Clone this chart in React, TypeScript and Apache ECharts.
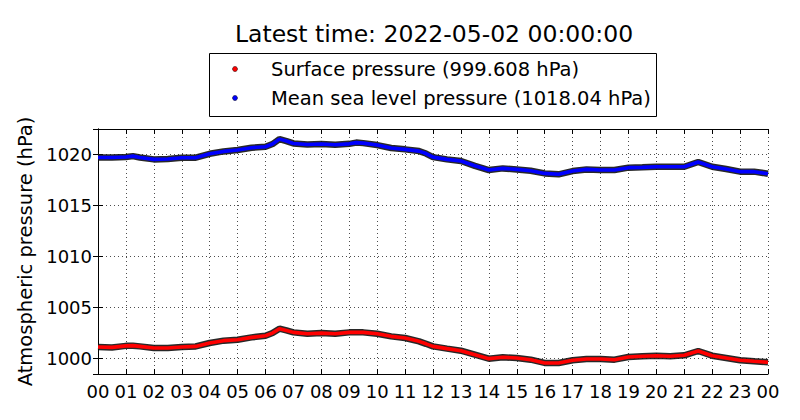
import React, { useEffect, useRef } from "react";
import * as echarts from "echarts";

const titleText = "Latest time: 2022-05-02 00:00:00";
const yAxisName = "Atmospheric pressure (hPa)";
const seriesNames = ["Surface pressure (999.608 hPa)", "Mean sea level pressure (1018.04 hPa)"];
const seriesColors = ["#ff0000", "#0000ff"];
const hourLabels = ["00","01","02","03","04","05","06","07","08","09","10","11","12","13","14","15","16","17","18","19","20","21","22","23","00"];

// time in hours since 2022-05-01 00:00
const times = [0,0.5,1,1.25,1.5,2,2.5,3,3.5,4,4.5,5,5.5,6,6.25,6.5,6.75,7,7.5,8,8.5,9,9.25,9.5,10,10.5,11,11.5,11.75,12,12.5,13,13.5,14,14.5,15,15.5,16,16.5,17,17.5,18,18.5,19,19.5,20,20.5,21,21.5,22,22.5,23,23.5,24];

const surfacePressure = [1001.14,1001.1,1001.25,1001.27,1001.2,1001.04,1001.04,1001.14,1001.2,1001.53,1001.76,1001.85,1002.08,1002.24,1002.5,1002.93,1002.76,1002.57,1002.44,1002.5,1002.44,1002.57,1002.57,1002.57,1002.44,1002.18,1002.02,1001.69,1001.45,1001.2,1000.98,1000.78,1000.39,1000.0,1000.13,1000.07,999.9,999.58,999.58,999.84,999.97,999.97,999.9,1000.16,1000.23,1000.29,1000.23,1000.33,1000.75,1000.29,1000.07,999.84,999.74,999.65];

const seaLevelPressure = [1019.67,1019.67,1019.72,1019.8,1019.67,1019.48,1019.52,1019.64,1019.64,1020.03,1020.26,1020.39,1020.62,1020.72,1020.98,1021.46,1021.27,1021.04,1020.94,1020.98,1020.91,1021.0,1021.12,1021.07,1020.88,1020.59,1020.46,1020.29,1020.05,1019.7,1019.48,1019.32,1018.85,1018.44,1018.6,1018.5,1018.37,1018.11,1018.02,1018.34,1018.5,1018.44,1018.44,1018.67,1018.7,1018.76,1018.76,1018.76,1019.22,1018.76,1018.54,1018.28,1018.28,1018.08];

const FONT = "DejaVu Sans";

export default function App() {
  const ref = useRef<HTMLDivElement>(null);
  useEffect(() => {
    if (!ref.current) return;
    const chart = echarts.init(ref.current, null, { renderer: "svg" });
    const pairs = (vals: number[]) => times.map((t, i) => [t, vals[i]]);
    const dataSets = [surfacePressure, seaLevelPressure];
    const series: any[] = [];
    dataSets.forEach((vals, i) => {
      series.push({
        type: "line",
        name: seriesNames[i] + " outline",
        data: pairs(vals),
        showSymbol: false,
        symbol: "none",
        silent: true,
        lineStyle: { color: "#111111", width: 6.5, opacity: 0.9 },
        z: 3,
      });
      series.push({
        type: "line",
        name: seriesNames[i],
        data: pairs(vals),
        showSymbol: false,
        symbol: "none",
        silent: true,
        lineStyle: { color: seriesColors[i], width: 3.6 },
        z: 4,
      });
    });
    const gridLine = { show: true, lineStyle: { color: "#000", width: 0.7, type: [1, 3] as any } };
    const axisLineStyle = { show: true, lineStyle: { color: "#000", width: 1 } };
    const tickStyle = { show: true, inside: true, length: 5, lineStyle: { color: "#000", width: 1 } };
    chart.setOption({
      animation: false,
      backgroundColor: "#fff",
      grid: { left: 98, right: 32, top: 129, bottom: 46, containLabel: false, show: false },
      xAxis: [
        {
          type: "value", min: 0, max: 24, interval: 1, position: "bottom",
          axisLine: axisLineStyle, axisTick: tickStyle, splitLine: gridLine,
          axisLabel: { formatter: (v: number) => hourLabels[Math.round(v)] ?? "", color: "#000", fontFamily: FONT, fontSize: 18, margin: 8 },
        },
        {
          type: "value", min: 0, max: 24, interval: 1, position: "top",
          axisLine: axisLineStyle, axisTick: tickStyle, splitLine: { show: false }, axisLabel: { show: false },
        },
      ],
      yAxis: [
        {
          type: "value", min: 998.5, max: 1022.45, minInterval: 5, maxInterval: 5, position: "left",
          axisLine: axisLineStyle, axisTick: tickStyle, splitLine: gridLine,
          axisLabel: {
            formatter: (v: number) => (Math.abs(v % 5) < 1e-6 ? String(v) : ""),
            color: "#000", fontFamily: FONT, fontSize: 18, margin: 6,
            showMinLabel: false, showMaxLabel: false,
          },
          name: yAxisName, nameLocation: "middle", nameGap: 57, nameRotate: 90,
          nameTextStyle: { color: "#000", fontFamily: FONT, fontSize: 19.5 },
        },
        {
          type: "value", min: 998.5, max: 1022.45, minInterval: 5, maxInterval: 5, position: "right",
          axisLine: axisLineStyle, axisTick: tickStyle, splitLine: { show: false }, axisLabel: { show: false },
        },
      ],
      series,
      graphic: [
        {
          type: "text", x: 434, y: 34,
          style: { text: titleText, fill: "#000", font: `23.5px '${FONT}'`, textAlign: "center", textVerticalAlign: "middle" } as any,
        },
        {
          type: "rect", shape: { x: 209.5, y: 53.5, width: 447, height: 63 },
          style: { fill: "#fff", stroke: "#000", lineWidth: 1 }, z: 100,
        },
        {
          type: "circle", shape: { cx: 235, cy: 69, r: 2.5 },
          style: { fill: seriesColors[0], stroke: "#000", lineWidth: 0.5 }, z: 101,
        },
        {
          type: "circle", shape: { cx: 235, cy: 98, r: 2.5 },
          style: { fill: seriesColors[1], stroke: "#000", lineWidth: 0.5 }, z: 101,
        },
        {
          type: "text", x: 271, y: 69, z: 101,
          style: { text: seriesNames[0], fill: "#000", font: `19.5px '${FONT}'`, textAlign: "left", textVerticalAlign: "middle" } as any,
        },
        {
          type: "text", x: 271, y: 98, z: 101,
          style: { text: seriesNames[1], fill: "#000", font: `19.5px '${FONT}'`, textAlign: "left", textVerticalAlign: "middle" } as any,
        },
      ],
    });
    return () => chart.dispose();
  }, []);
  return <div ref={ref} style={{ position: "absolute", left: 0, top: 0, width: 800, height: 420 }} />;
}
